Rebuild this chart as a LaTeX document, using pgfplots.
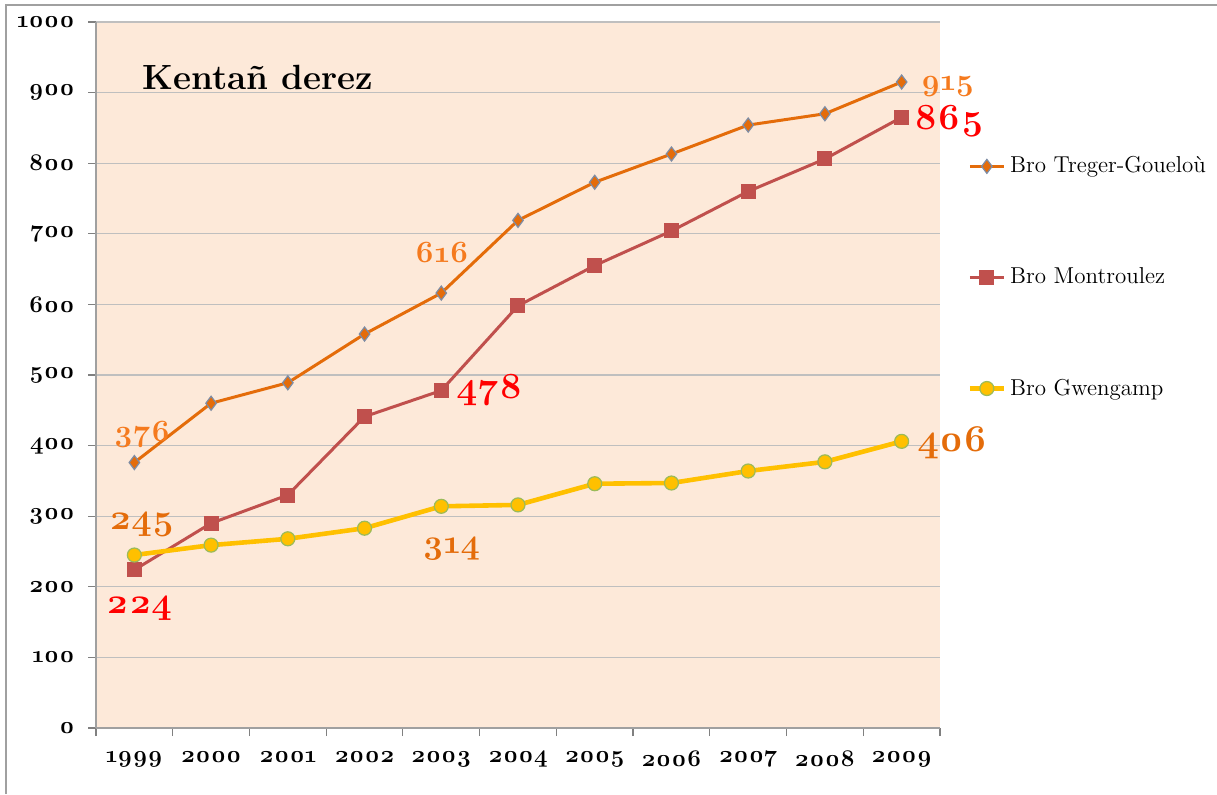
\documentclass[border=0pt]{standalone}
\usepackage{pgfplots}
\pgfplotsset{compat=1.18}
\usepackage{fontspec}
\setmainfont{Latin Modern Roman}[Numbers=OldStyle]

\definecolor{bgpeach}{RGB}{253,233,217}
\definecolor{grid}{RGB}{160,160,160}
\definecolor{treger}{RGB}{228,108,10}
\definecolor{tregeredge}{RGB}{125,140,165}
\definecolor{montr}{RGB}{192,80,77}
\definecolor{gwen}{RGB}{255,192,0}
\definecolor{gwenedge}{RGB}{155,187,89}
\definecolor{lblorange}{RGB}{245,122,30}
\definecolor{lbldark}{RGB}{228,108,10}

\begin{document}
\begin{tikzpicture}
  \path[use as bounding box] (0,0) rectangle (608.5pt,397pt);
  \draw[grid,line width=1pt] (3pt,0) -- (3pt,394.5pt) -- (608.5pt,394.5pt);

  \begin{axis}[
      at={(48pt,33pt)}, anchor=south west,
      scale only axis, width=422pt, height=353pt,
      xmin=1998.5, xmax=2009.5,
      ymin=0, ymax=1000, ytick={0,100,...,1000},
      % tick marks between the years, labels at the years
      xtick={1998.5,1999.5,...,2009.5}, xticklabels={},
      extra x ticks={1999,2000,...,2009},
      extra x tick labels={1999,2000,2001,2002,2003,2004,2005,2006,2007,2008,2009},
      extra x tick style={major tick length=0pt, xmajorgrids=false},
      tick align=outside,
      major tick length=4pt,
      axis x line*=bottom, axis y line*=left,
      axis line style={grid,line width=0.7pt},
      tick style={grid,line width=0.6pt},
      xmajorgrids=false, ymajorgrids, major grid style={grid,line width=0.6pt},
      axis background/.style={fill=bgpeach},
      /pgf/number format/assume math mode=true,
      yticklabel={\pgfmathprintnumber[1000 sep={}]{\tick}},
      ticklabel style={font=\fontsize{12}{14}\selectfont\bfseries},
      xticklabel style={yshift=-8pt},
      yticklabel style={anchor=east, inner xsep=0pt, xshift=-6.5pt},
      clip=false,
      legend style={at={(rel axis cs:1.025,0.821)}, anchor=north west,
        draw=none, fill=none, row sep=42pt,
        font=\fontsize{11.5}{13}\selectfont,
        /tikz/every even column/.append style={column sep=1pt}},
      legend cell align=left,
    ]
    \addplot[treger, line width=1.5pt, mark=diamond*, mark size=3.5pt,
      mark options={fill=treger, draw=tregeredge, line width=0.6pt}]
      coordinates {(1999,376) (2000,460) (2001,489) (2002,558) (2003,616)
        (2004,719) (2005,773) (2006,813) (2007,854) (2008,870) (2009,915)};
    \addlegendentry{Bro Treger-Goueloù}
    \addplot[montr, line width=1.5pt, mark=square*, mark size=3pt,
      mark options={fill=montr, draw=montr}]
      coordinates {(1999,224) (2000,290) (2001,330) (2002,441) (2003,478)
        (2004,598) (2005,655) (2006,704) (2007,760) (2008,806) (2009,865)};
    \addlegendentry{Bro Montroulez}
    \addplot[gwen, line width=2.3pt, mark=*, mark size=3.5pt,
      mark options={fill=gwen, draw=gwenedge, line width=0.6pt}]
      coordinates {(1999,245) (2000,259) (2001,268) (2002,283) (2003,314)
        (2004,316) (2005,346) (2006,347) (2007,364) (2008,377) (2009,406)};
    \addlegendentry{Bro Gwengamp}

    % title
    \node[font=\fontsize{17.5}{20}\selectfont\bfseries] at (axis cs:2000.61,922) {Kentañ derez};

    % value labels
    \node[lblorange, font=\fontsize{15.5}{18}\selectfont\bfseries] at (axis cs:1999.10,416) {376};
    \node[lblorange, font=\fontsize{15.5}{18}\selectfont\bfseries] at (axis cs:2003.01,673) {616};
    \node[lblorange, font=\fontsize{15.5}{18}\selectfont\bfseries] at (axis cs:2009.60,909) {915};
    \node[red, font=\fontsize{18.5}{21}\selectfont\bfseries] at (axis cs:2009.62,860) {865};
    \node[red, font=\fontsize{18.5}{21}\selectfont\bfseries] at (axis cs:2003.63,479) {478};
    \node[red, font=\fontsize{18}{21}\selectfont\bfseries] at (axis cs:1999.07,169) {224};
    \node[lbldark, font=\fontsize{18}{21}\selectfont\bfseries] at (axis cs:1999.10,288) {245};
    \node[lbldark, font=\fontsize{17}{20}\selectfont\bfseries] at (axis cs:2003.13,254) {314};
    \node[lbldark, font=\fontsize{19}{22}\selectfont\bfseries] at (axis cs:2009.66,404) {406};
  \end{axis}
\end{tikzpicture}
\end{document}
